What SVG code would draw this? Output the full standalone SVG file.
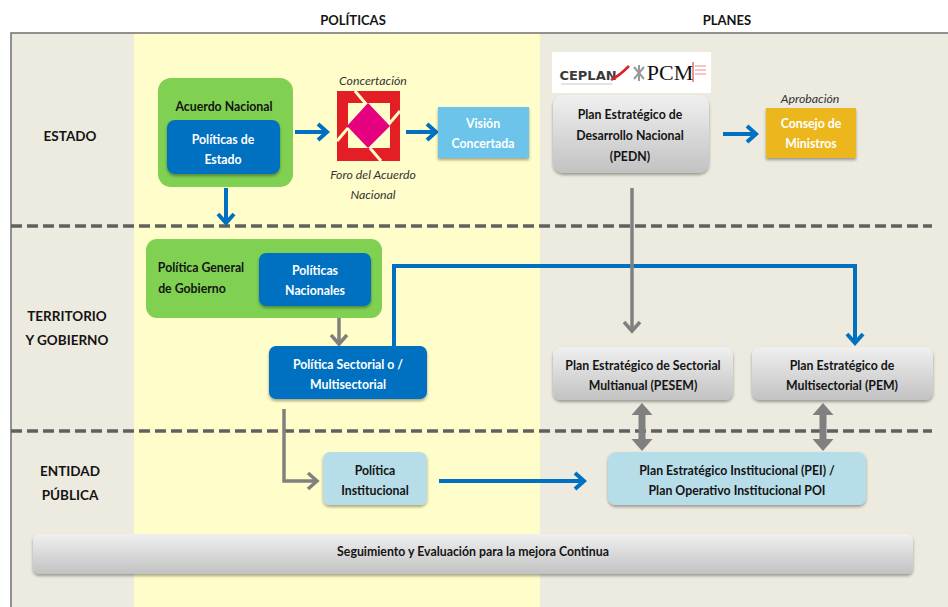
<svg xmlns="http://www.w3.org/2000/svg" width="948" height="607" viewBox="0 0 948 607">
<style>
text{font-family:Lato,"Open Sans","DejaVu Sans",sans-serif;font-weight:bold;font-size:12.3px;text-anchor:middle;dominant-baseline:central;fill:#141414}
.w{fill:#ffffff}
.it{font-style:italic;font-weight:normal;fill:#333333}
.hdr{font-size:13px}
.lane{font-size:13.5px}
.green{fill:#80D152}
.blue{fill:#0070C0}
.lblue{fill:#B7DEE8}
.gray{fill:url(#gg)}
.dash{stroke:#606060;stroke-width:3.5;stroke-dasharray:11 5;fill:none}
.ab{stroke:#0070C0;stroke-width:4;fill:none}
.ag{stroke:#808080;stroke-width:3.5;fill:none}
</style>
<defs>
<linearGradient id="gg" x1="0" y1="0" x2="0" y2="1">
<stop offset="0" stop-color="#F0F0F0"/>
<stop offset="1" stop-color="#C2C2C2"/>
</linearGradient>
<filter id="sh" x="-10%" y="-10%" width="120%" height="130%">
<feDropShadow dx="0" dy="2" stdDeviation="1.5" flood-color="#000" flood-opacity="0.35"/>
</filter>
<marker id="mb" markerUnits="userSpaceOnUse" markerWidth="14" markerHeight="20" refX="11" refY="10" orient="auto">
<path d="M2,2 L11,10 L2,18" fill="none" stroke="#0070C0" stroke-width="4"/>
</marker>
<marker id="mg" markerUnits="userSpaceOnUse" markerWidth="14" markerHeight="20" refX="11" refY="10" orient="auto">
<path d="M2,2 L11,10 L2,18" fill="none" stroke="#808080" stroke-width="3.5"/>
</marker>
<path id="dbl" d="M0,0 L10.5,12 L3.5,12 L3.5,36 L10.5,36 L0,48 L-10.5,36 L-3.5,36 L-3.5,12 L-10.5,12 Z" fill="#808080"/>
</defs>

<rect x="0" y="0" width="948" height="607" fill="#ffffff"/>
<rect x="11" y="33" width="940" height="580" fill="#EDEAE0"/>
<rect x="134" y="33" width="406" height="580" fill="#FFFDC9"/>
<path d="M11,607 L11,33 L948,33" fill="none" stroke="#707070" stroke-width="1.5"/>

<text class="hdr" x="353" y="20">POLÍTICAS</text>
<text class="hdr" x="727" y="20">PLANES</text>

<text class="lane" x="70" y="136">ESTADO</text>
<text class="lane" x="67" y="316">TERRITORIO</text>
<text class="lane" x="67" y="340">Y GOBIERNO</text>
<text class="lane" x="70" y="471">ENTIDAD</text>
<text class="lane" x="70" y="495">PÚBLICA</text>

<g id="lanes">
<line class="dash" x1="11" y1="226" x2="932" y2="226"/>
<line class="dash" x1="11" y1="431" x2="932" y2="431"/>
</g>

<g id="connectors">
<line class="ab" x1="295" y1="132" x2="327" y2="132" marker-end="url(#mb)"/>
<line class="ab" x1="406" y1="132" x2="436" y2="132" marker-end="url(#mb)"/>
<line class="ab" x1="226" y1="188" x2="226" y2="223" marker-end="url(#mb)"/>
<line class="ab" x1="723" y1="134" x2="756" y2="134" marker-end="url(#mb)"/>
<polyline class="ab" points="394,346 394,266 855,266 855,343" marker-end="url(#mb)"/>
<line class="ab" x1="439" y1="481" x2="584" y2="481" marker-end="url(#mb)"/>
<line class="ag" x1="632" y1="188" x2="632" y2="331" marker-end="url(#mg)"/>
<line class="ag" x1="339" y1="318" x2="339" y2="344" marker-end="url(#mg)"/>
<polyline class="ag" points="284,409 284,481 317,481" marker-end="url(#mg)"/>
<use href="#dbl" x="642" y="403"/>
<use href="#dbl" x="823" y="403"/>
</g>

<g id="acuerdo-nacional">
<rect class="green" x="158" y="78" width="135" height="109" rx="13"/>
<text x="224" y="106">Acuerdo Nacional</text>
</g>
<g id="politicas-estado">
<rect class="blue" x="167" y="120" width="113" height="54" rx="8" filter="url(#sh)"/>
<text class="w" x="223" y="139">Políticas de</text>
<text class="w" x="223" y="159">Estado</text>
</g>

<g id="foro">
<text class="it" x="373" y="80">Concertación</text>
<rect x="337" y="91" width="63" height="70" fill="#E31E24"/>
<rect x="348" y="103" width="42" height="45" fill="#FFFDC9"/>
<path d="M355,91 L366,104 M370,148 L381,161 M337,141 L348,128 M400,111 L389,124" stroke="#FFFDC9" stroke-width="3" fill="none"/>
<polygon points="368,103 390,126 368,148 347,126" fill="#E4007E"/>
<text class="it" x="373" y="174">Foro del Acuerdo</text>
<text class="it" x="373" y="194">Nacional</text>
</g>

<g id="vision">
<rect x="438" y="107" width="91" height="51" fill="#6CC4EA" filter="url(#sh)"/>
<text class="w" x="483" y="123">Visión</text>
<text class="w" x="483" y="143">Concertada</text>
</g>

<g id="logo">
<rect x="552" y="52" width="159" height="41" fill="#ffffff"/>
<text x="588" y="75" style="font-family:'DejaVu Sans',sans-serif;font-weight:bold;font-size:13px;fill:#3a3a3a">CEPLAN</text>
<path d="M611,80 C617,77 623,72 629,66" stroke="#E31E24" stroke-width="2.5" fill="none"/>
<line x1="561" y1="84" x2="612" y2="84" stroke="#c8c8c8" stroke-width="1"/>
<g stroke="#999999" stroke-width="2">
<line x1="634" y1="67" x2="644" y2="79"/><line x1="644" y1="67" x2="634" y2="79"/><line x1="639" y1="65" x2="639" y2="81"/>
</g>
<text x="670" y="72" style="font-family:'Liberation Serif',serif;font-weight:normal;font-size:22px;fill:#111111">PCM</text>
<line x1="693" y1="62" x2="693" y2="82" stroke="#E31E24" stroke-width="1"/>
<g stroke="#E88" stroke-width="1"><line x1="695" y1="66" x2="706" y2="66"/><line x1="695" y1="70" x2="706" y2="70"/><line x1="695" y1="74" x2="706" y2="74"/></g>
</g>

<g id="pedn">
<rect class="gray" x="553" y="95" width="156" height="78" rx="10" filter="url(#sh)"/>
<text x="630" y="114">Plan Estratégico de</text>
<text x="630" y="135">Desarrollo Nacional</text>
<text x="630" y="156">(PEDN)</text>
</g>

<g id="consejo">
<text class="it" x="810" y="98">Aprobación</text>
<rect x="766" y="108" width="90" height="50" fill="#ECB71F" filter="url(#sh)"/>
<text class="w" x="811" y="123">Consejo de</text>
<text class="w" x="811" y="143">Ministros</text>
</g>

<g id="politica-general">
<rect class="green" x="146" y="239" width="236" height="79" rx="11"/>
<text x="201" y="267">Política General</text>
<text x="192" y="288">de Gobierno</text>
</g>
<g id="politicas-nacionales">
<rect class="blue" x="259" y="253" width="112" height="53" rx="7" filter="url(#sh)"/>
<text class="w" x="315" y="270">Políticas</text>
<text class="w" x="315" y="290">Nacionales</text>
</g>

<g id="politica-sectorial">
<rect class="blue" x="269" y="346" width="158" height="53" rx="7" filter="url(#sh)"/>
<text class="w" x="348" y="364">Política Sectorial o /</text>
<text class="w" x="348" y="384">Multisectorial</text>
</g>

<g id="pesem">
<rect class="gray" x="553" y="347" width="180" height="53" rx="8" filter="url(#sh)"/>
<text x="643" y="365">Plan Estratégico de Sectorial</text>
<text x="643" y="385">Multianual (PESEM)</text>
</g>

<g id="pem">
<rect class="gray" x="752" y="347" width="181" height="53" rx="8" filter="url(#sh)"/>
<text x="842" y="365">Plan Estratégico de</text>
<text x="842" y="385">Multisectorial (PEM)</text>
</g>

<g id="politica-institucional">
<rect class="lblue" x="323" y="452" width="104" height="53" rx="7" filter="url(#sh)"/>
<text x="375" y="470">Política</text>
<text x="375" y="490">Institucional</text>
</g>

<g id="pei">
<rect class="lblue" x="608" y="452" width="258" height="53" rx="8" filter="url(#sh)"/>
<text x="737" y="470">Plan Estratégico Institucional (PEI) /</text>
<text x="737" y="490">Plan Operativo Institucional POI</text>
</g>

<g id="seguimiento">
<rect class="gray" x="33" y="534" width="880" height="40" rx="6" filter="url(#sh)"/>
<text x="473" y="551">Seguimiento y Evaluación para la mejora Continua</text>
</g>
</svg>
